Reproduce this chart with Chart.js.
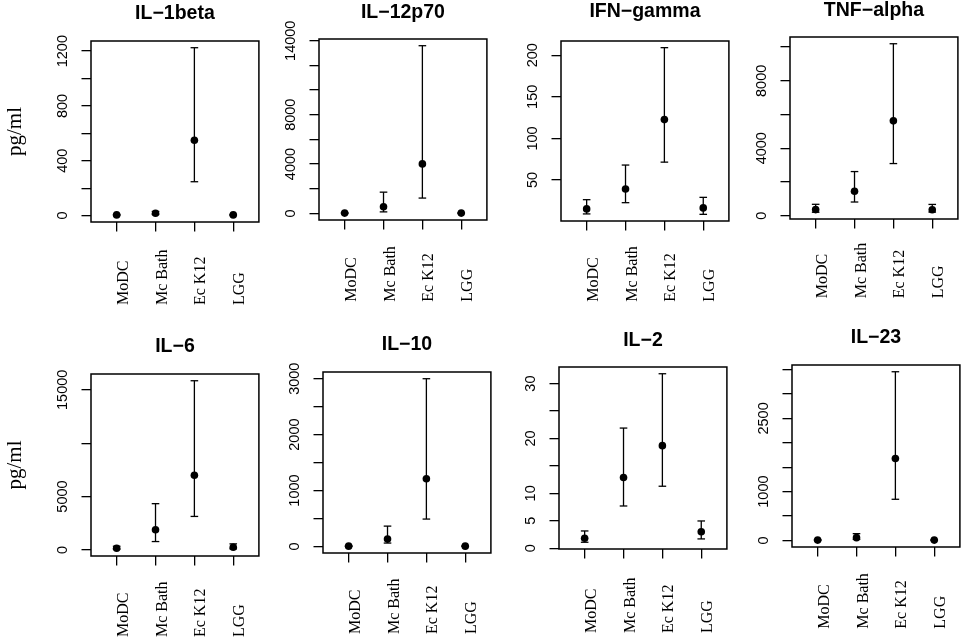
<!DOCTYPE html>
<html>
<head>
<meta charset="utf-8">
<script src="https://cdn.jsdelivr.net/npm/chart.js@4.4.0/dist/chart.umd.min.js"></script>
<style>
html, body { margin: 0; padding: 0; background: #fff; overflow: hidden; }
#wrap { position: relative; width: 964px; height: 641px; overflow: hidden; background: #fff; }
#wrap canvas { position: absolute; }
</style>
</head>
<body>
<div id="wrap"></div>
<script>
// ---------------- data ----------------
const categories = ['MoDC', 'Mc Bath', 'Ec K12', 'LGG'];
const panelTitles = ['IL\u22121beta', 'IL\u221212p70', 'IFN\u2212gamma', 'TNF\u2212alpha',
                     'IL\u22126', 'IL\u221210', 'IL\u22122', 'IL\u221223'];
const yAxisLabel = 'pg/ml';

const il1betaMean = [5, 17, 550, 5];
const il1betaLow  = [2, 8, 247, 2];
const il1betaHigh = [8, 30, 1225, 8];

const il12p70Mean = [20, 540, 4010, 20];
const il12p70Low  = [5, 120, 1240, 5];
const il12p70High = [40, 1720, 13600, 40];

const ifngMean = [15.3, 39.2, 122.6, 16.5];
const ifngLow  = [9.3, 22.8, 71.5, 8.8];
const ifngHigh = [26.4, 68, 209, 29.2];

const tnfaMean = [357, 1444, 5623, 345];
const tnfaLow  = [200, 808, 3090, 210];
const tnfaHigh = [672, 2615, 10200, 665];

const il6Mean = [150, 1883, 6996, 245];
const il6Low  = [60, 782, 3136, 100];
const il6High = [340, 4331, 15850, 565];

const il10Mean = [5, 131, 1211, 5];
const il10Low  = [2, 60, 489, 2];
const il10High = [10, 363, 3000, 10];

const il2Mean = [1.82, 12.9, 18.7, 3.0];
const il2Low  = [1.09, 7.7, 11.3, 1.7];
const il2High = [3.15, 21.9, 31.8, 4.97];

const il23Mean = [5, 55, 1677, 5];
const il23Low  = [2, 20, 842, 2];
const il23High = [10, 138, 3456, 10];

// tick step and labelled tick values per panel
const yTickSteps = [200, 2000, 50, 2000, 5000, 500, 5, 500];
const il1betaTickLabels = [0, 400, 800, 1200];
const il12p70TickLabels = [0, 4000, 8000, 14000];
const ifngTickLabels    = [50, 100, 150, 200];
const tnfaTickLabels    = [0, 4000, 8000];
const il6TickLabels     = [0, 5000, 15000];
const il10TickLabels    = [0, 1000, 2000, 3000];
const il2TickLabels     = [0, 5, 10, 20, 30];
const il23TickLabels    = [0, 1000, 2500];

// ---------------- layout (plot box per panel: left, top, right, bottom) ----------------
const panelBoxes = [
  [90.7, 40.7, 260, 222], [319.3, 39.3, 488.3, 220], [560.7, 40.7, 729.7, 221], [789.7, 37.3, 958.7, 219],
  [90.7, 374, 260, 556], [322.7, 371.7, 491.7, 552.3], [559.3, 367.3, 728.3, 549.3], [791.7, 365, 961, 546.7]
];
const titleOffsets = [27.4, 26.5, 29, 26, 27.3, 27.2, 26.5, 27.2];
const xLabelOffsets = [83, 81.7, 80.7, 79.3, 81, 81, 84, 81.7];

const SANS = '"Liberation Sans", Arial, Helvetica, sans-serif';
const SERIF = '"Liberation Serif", "Times New Roman", serif';
const AXIS_W = 91, TOP_H = 40, BOTTOM_PAD = 85, XAXIS_H = 10, RIGHT_PAD = 4;
const TICK_LEN = 9.5, LABEL_CENTER = 27.7;
const YTICK_FONT = 14.5, TITLE_FONT = 19.5, TITLE_LH = 22;

const panels = [
  { mean: il1betaMean, low: il1betaLow, high: il1betaHigh, labels: il1betaTickLabels },
  { mean: il12p70Mean, low: il12p70Low, high: il12p70High, labels: il12p70TickLabels },
  { mean: ifngMean, low: ifngLow, high: ifngHigh, labels: ifngTickLabels },
  { mean: tnfaMean, low: tnfaLow, high: tnfaHigh, labels: tnfaTickLabels },
  { mean: il6Mean, low: il6Low, high: il6High, labels: il6TickLabels },
  { mean: il10Mean, low: il10Low, high: il10High, labels: il10TickLabels },
  { mean: il2Mean, low: il2Low, high: il2High, labels: il2TickLabels },
  { mean: il23Mean, low: il23Low, high: il23High, labels: il23TickLabels }
];

const measureCtx = document.createElement('canvas').getContext('2d');
measureCtx.font = YTICK_FONT + 'px ' + SANS;

const boxPlugin = {
  id: 'plotBox',
  afterDatasetsDraw(chart) {
    const a = chart.chartArea, ctx = chart.ctx;
    ctx.save();
    ctx.strokeStyle = '#000';
    ctx.lineWidth = 1.5;
    ctx.strokeRect(a.left, a.top, a.right - a.left, a.bottom - a.top);
    ctx.restore();
  }
};

const xLabelPlugin = {
  id: 'xCatLabels',
  afterDraw(chart, args, opts) {
    const ctx = chart.ctx, x = chart.scales.x, a = chart.chartArea;
    ctx.save();
    ctx.font = '16px ' + SERIF;
    ctx.fillStyle = '#000';
    ctx.textAlign = 'left';
    ctx.textBaseline = 'alphabetic';
    opts.labels.forEach((lab, k) => {
      const px = x.getPixelForValue(k + 1);
      ctx.save();
      ctx.translate(px + 11, a.bottom + opts.offset);
      ctx.rotate(-Math.PI / 2);
      ctx.fillText(lab, 0, 0);
      ctx.restore();
    });
    ctx.restore();
  }
};

const wrap = document.getElementById('wrap');
const n = categories.length;

panels.forEach((p, i) => {
  const [l, t, r, b] = panelBoxes[i];
  const bw = Math.round(r - l), bh = Math.round(b - t);
  const cw = AXIS_W + bw + RIGHT_PAD, ch = TOP_H + bh + XAXIS_H + BOTTOM_PAD;
  const cv = document.createElement('canvas');
  cv.width = cw; cv.height = ch;
  cv.style.width = cw + 'px'; cv.style.height = ch + 'px';
  cv.style.left = (l - AXIS_W) + 'px';
  cv.style.top = (t - TOP_H) + 'px';
  wrap.appendChild(cv);

  const all = p.low.concat(p.high, p.mean);
  const lo = Math.min(...all), hi = Math.max(...all);
  const ext = 0.04 * (hi - lo);
  const step = yTickSteps[i];

  const maxW = Math.max(...p.labels.map(v => measureCtx.measureText(String(v)).width));
  const tickPad = LABEL_CENTER - TICK_LEN - maxW / 2;

  const pointData = p.mean.map((v, k) => ({ x: k + 1, y: v }));
  const errData = [];
  p.mean.forEach((v, k) => {
    errData.push({ x: k + 1, y: p.low[k] });
    errData.push({ x: k + 1, y: p.high[k] });
    errData.push({ x: k + 1, y: null });
  });

  const off = titleOffsets[i];
  const showYTitle = (i % 4 === 0);

  new Chart(cv, {
    type: 'scatter',
    data: {
      datasets: [
        { label: 'mean', data: pointData, pointRadius: 3.8, pointHoverRadius: 3.8,
          pointBackgroundColor: '#000', pointBorderColor: '#000', pointBorderWidth: 0, showLine: false },
        { type: 'line', label: 'range', data: errData, borderColor: '#000', borderWidth: 1.3,
          pointStyle: 'line', pointRadius: 3.8, pointHoverRadius: 3.8, pointBorderColor: '#000',
          pointBorderWidth: 1.3, spanGaps: false, fill: false, tension: 0 }
      ]
    },
    options: {
      responsive: false,
      animation: false,
      events: [],
      layout: { padding: { left: 0, top: 0, right: RIGHT_PAD, bottom: BOTTOM_PAD } },
      scales: {
        x: {
          type: 'linear',
          min: 0.5 - 0.04 * n,
          max: n + 0.5 + 0.04 * n,
          afterBuildTicks: s => { s.ticks = categories.map((c, k) => ({ value: k + 1 })); },
          afterFit: s => { s.height = XAXIS_H; },
          grid: { drawOnChartArea: false, drawTicks: true, tickLength: TICK_LEN, color: '#000', lineWidth: 1.3 },
          border: { display: false },
          ticks: { display: false }
        },
        y: {
          type: 'linear',
          min: lo - ext,
          max: hi + ext,
          afterBuildTicks: s => {
            const out = [];
            for (let k = Math.ceil(s.min / step); k * step <= s.max + 1e-9; k++) {
              out.push({ value: Math.round(k * step * 1e6) / 1e6 });
            }
            s.ticks = out;
          },
          afterFit: s => { s.width = AXIS_W; },
          grid: { drawOnChartArea: false, drawTicks: true, tickLength: TICK_LEN, color: '#000', lineWidth: 1.3 },
          border: { display: false },
          ticks: {
            autoSkip: false,
            minRotation: 90,
            maxRotation: 90,
            crossAlign: 'center',
            padding: tickPad,
            color: '#000',
            font: { family: SANS, size: YTICK_FONT },
            callback: v => p.labels.some(L => Math.abs(L - v) < 1e-6) ? String(v) : ''
          },
          title: {
            display: showYTitle,
            text: yAxisLabel,
            color: '#000',
            font: { family: SERIF, size: 21, lineHeight: '24px' },
            padding: { top: 3, bottom: 0 }
          }
        }
      },
      plugins: {
        legend: { display: false },
        tooltip: { enabled: false },
        title: {
          display: true,
          text: panelTitles[i],
          fullSize: false,
          color: '#000',
          font: { family: SANS, size: TITLE_FONT, weight: 'bold', lineHeight: TITLE_LH + 'px' },
          padding: { top: TOP_H - off - TITLE_LH / 2, bottom: off - TITLE_LH / 2 }
        },
        xCatLabels: { labels: categories, offset: xLabelOffsets[i] }
      }
    },
    plugins: [boxPlugin, xLabelPlugin]
  });
});
</script>
</body>
</html>
